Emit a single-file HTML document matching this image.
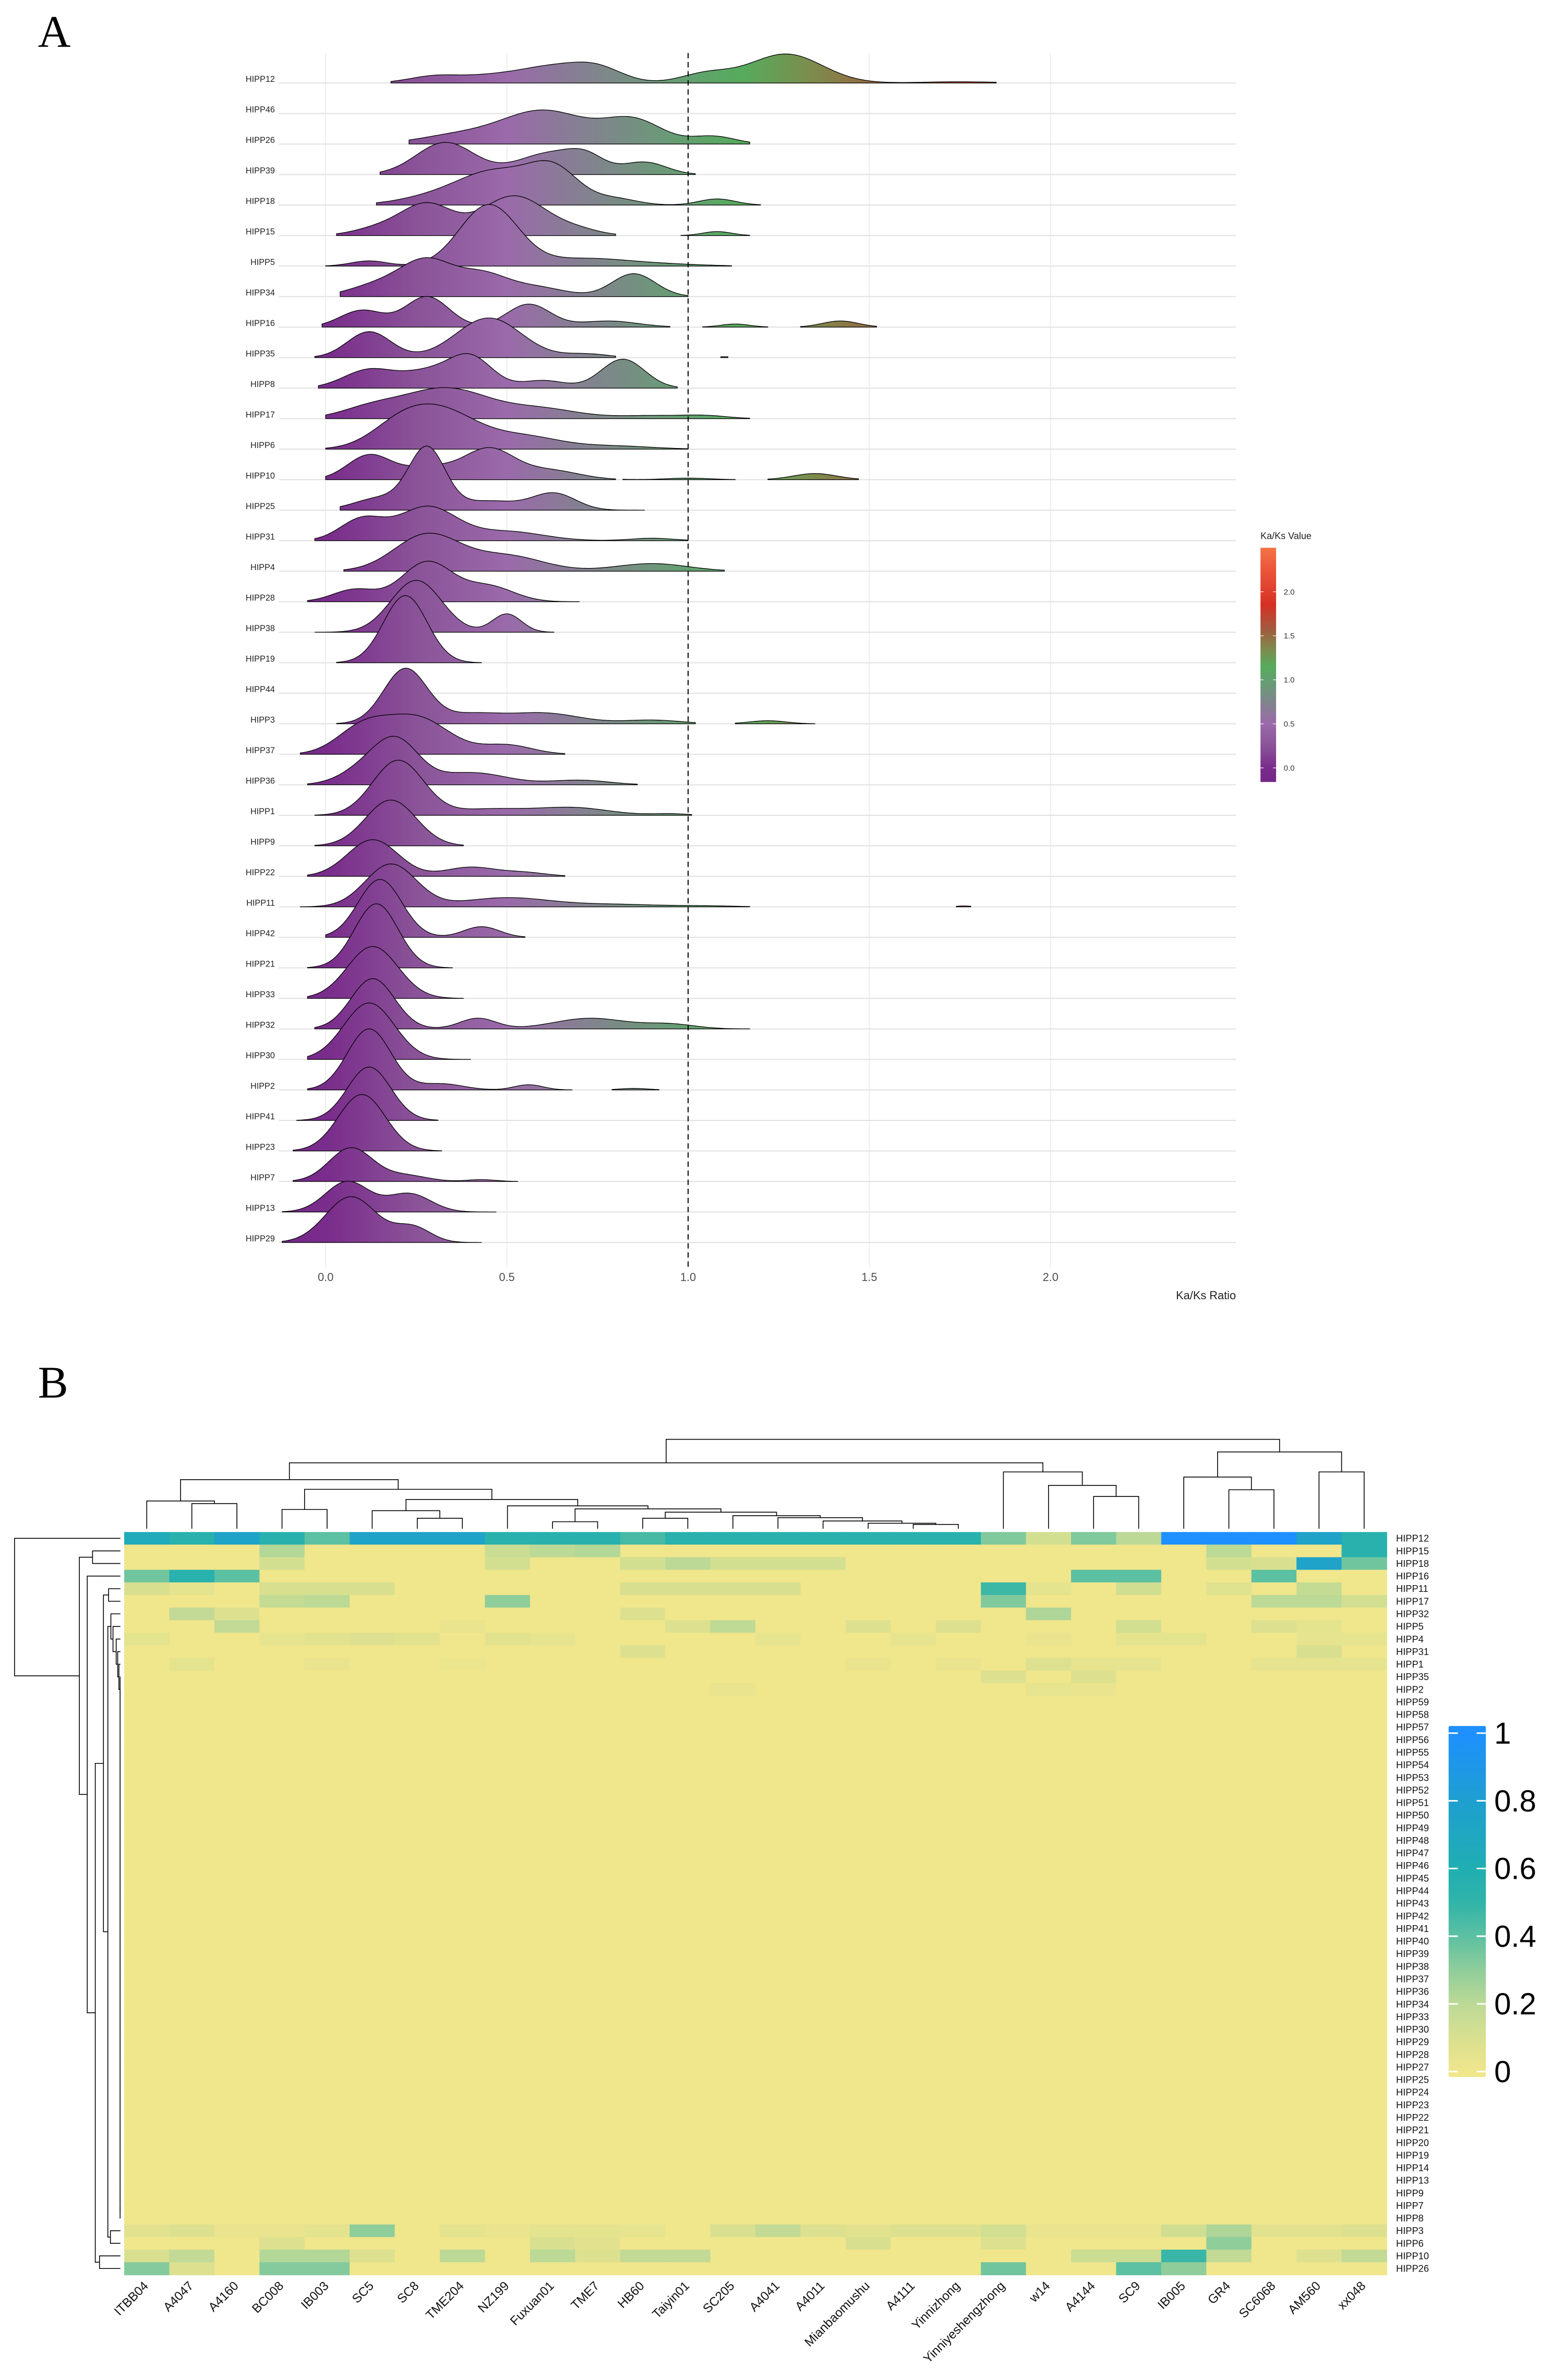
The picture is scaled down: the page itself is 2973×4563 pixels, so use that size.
<!DOCTYPE html>
<html><head><meta charset="utf-8"><title>Ka/Ks ridge plot and HIPP heatmap</title>
<style>html,body{margin:0;padding:0;background:#fff}svg{display:block}text{font-family:"Liberation Sans",Arial,sans-serif}</style>
</head><body>
<svg id="fig" xmlns="http://www.w3.org/2000/svg" width="2973" height="4563" viewBox="0 0 1024 1571.67" preserveAspectRatio="none">
<defs>
<linearGradient id="kg" gradientUnits="userSpaceOnUse" x1="176.7" y1="0" x2="813.3" y2="0"></linearGradient>
<linearGradient id="kgv" x1="0" y1="1" x2="0" y2="0"></linearGradient>
<linearGradient id="hg" x1="0" y1="1" x2="0" y2="0"></linearGradient>
</defs>
<text x="25" y="31" font-size="30" style="font-family:'Liberation Serif',serif">A</text>
<text x="25" y="923" font-size="30" style="font-family:'Liberation Serif',serif">B</text>
<g id="ridge"></g>
<g id="heat"></g>
</svg>
<script>
// ---------- Panel A data ----------
const ridgeGenes = ["HIPP12","HIPP46","HIPP26","HIPP39","HIPP18","HIPP15","HIPP5","HIPP34","HIPP16","HIPP35","HIPP8","HIPP17","HIPP6","HIPP10","HIPP25","HIPP31","HIPP4","HIPP28","HIPP38","HIPP19","HIPP44","HIPP3","HIPP37","HIPP36","HIPP1","HIPP9","HIPP22","HIPP11","HIPP42","HIPP21","HIPP33","HIPP32","HIPP30","HIPP2","HIPP41","HIPP23","HIPP7","HIPP13","HIPP29"];
// value ranges (segments) per gene
const ridgeSegments = [
[[0.18,1.85]],[],[[0.23,1.17]],[[0.15,1.02]],[[0.14,1.2]],[[0.03,0.8],[0.98,1.17]],[[0.0,1.12]],[[0.04,1.0]],
[[-0.01,0.95],[1.04,1.22],[1.31,1.52]],[[-0.03,0.8],[1.09,1.11]],[[-0.02,0.97]],[[0.0,1.17]],[[0.0,1.0]],
[[0.0,0.8],[0.82,1.13],[1.22,1.47]],[[0.04,0.88]],[[-0.03,1.0]],[[0.05,1.1]],[[-0.05,0.7]],[[-0.03,0.63]],[[0.03,0.43]],[],
[[0.03,1.02],[1.13,1.35]],[[-0.07,0.66]],[[-0.05,0.86]],[[-0.03,1.01]],[[-0.03,0.38]],[[-0.05,0.66]],[[-0.07,1.17],[1.74,1.78]],
[[0.0,0.55]],[[-0.05,0.35]],[[-0.05,0.38]],[[-0.03,1.17]],[[-0.05,0.4]],[[-0.05,0.68],[0.79,0.92]],[[-0.08,0.31]],[[-0.09,0.32]],
[[-0.09,0.53]],[[-0.12,0.47]],[[-0.12,0.43]]];
// density modes per gene: [center Ka/Ks, height (rows), spread]
const ridgePeaks = [
[[0.3,0.22,0.07],[0.45,0.2,0.08],[0.62,0.5,0.09],[0.75,0.45,0.07],[1.05,0.3,0.07],[1.27,0.95,0.1],[1.75,0.04,0.1]],
[],
[[0.35,0.25,0.1],[0.6,1.1,0.12],[0.85,0.75,0.08],[1.07,0.25,0.06]],
[[0.33,1.05,0.08],[0.62,0.7,0.09],[0.72,0.4,0.05],[0.88,0.4,0.06]],
[[0.3,0.25,0.1],[0.47,1.05,0.1],[0.63,1.1,0.07],[0.8,0.2,0.06],[1.08,0.2,0.05]],
[[0.15,0.25,0.07],[0.28,1.0,0.07],[0.52,1.3,0.09],[0.7,0.15,0.06],[1.08,0.13,0.04]],
[[0.12,0.17,0.05],[0.45,2.0,0.08],[0.72,0.25,0.12],[0.95,0.05,0.1]],
[[0.15,0.4,0.08],[0.28,1.1,0.07],[0.43,0.7,0.07],[0.58,0.3,0.08],[0.85,0.75,0.06]],
[[0.1,0.55,0.06],[0.28,1.0,0.06],[0.56,0.75,0.06],[0.78,0.2,0.08],[1.13,0.1,0.04],[1.42,0.2,0.05]],
[[0.12,0.85,0.06],[0.45,1.3,0.09],[0.72,0.12,0.06],[1.1,0.03,0.02]],
[[0.12,0.6,0.07],[0.28,0.5,0.07],[0.4,1.0,0.06],[0.6,0.25,0.06],[0.82,0.95,0.06]],
[[0.12,0.3,0.08],[0.33,1.0,0.12],[0.6,0.3,0.1],[0.9,0.1,0.1],[1.05,0.08,0.06]],
[[0.2,0.6,0.08],[0.32,1.2,0.1],[0.55,0.4,0.1],[0.8,0.1,0.1]],
[[0.12,0.8,0.06],[0.28,0.4,0.07],[0.45,1.0,0.07],[0.62,0.3,0.08],[1.0,0.05,0.06],[1.35,0.2,0.06]],
[[0.15,0.4,0.07],[0.28,2.0,0.05],[0.45,0.3,0.08],[0.63,0.55,0.06]],
[[0.1,0.7,0.06],[0.28,1.1,0.08],[0.5,0.3,0.1],[0.9,0.08,0.06]],
[[0.28,1.2,0.09],[0.5,0.5,0.1],[0.9,0.25,0.1]],
[[0.08,0.4,0.06],[0.28,1.3,0.07],[0.45,0.5,0.07]],
[[0.25,1.7,0.07],[0.5,0.6,0.04]],
[[0.22,2.2,0.06]],
[],
[[0.22,1.8,0.06],[0.4,0.3,0.08],[0.6,0.35,0.1],[0.9,0.12,0.08],[1.22,0.1,0.05]],
[[0.1,0.8,0.07],[0.25,1.2,0.09],[0.5,0.3,0.07]],
[[0.12,0.6,0.07],[0.2,1.2,0.06],[0.4,0.4,0.1],[0.7,0.15,0.08]],
[[0.2,1.8,0.07],[0.45,0.2,0.1],[0.68,0.25,0.1],[0.95,0.05,0.05]],
[[0.18,1.5,0.07]],
[[0.13,1.2,0.07],[0.4,0.3,0.07],[0.55,0.12,0.06]],
[[0.18,1.4,0.07],[0.5,0.3,0.12],[0.8,0.08,0.12],[1.05,0.03,0.08],[1.76,0.03,0.02]],
[[0.15,1.9,0.06],[0.43,0.35,0.05]],
[[0.14,2.1,0.06]],
[[0.13,1.7,0.07]],
[[0.13,1.65,0.06],[0.42,0.35,0.05],[0.73,0.35,0.1],[0.95,0.15,0.07]],
[[0.12,1.85,0.07]],
[[0.12,2.0,0.06],[0.32,0.2,0.06],[0.56,0.17,0.04],[0.85,0.05,0.04]],
[[0.12,1.75,0.06]],
[[0.1,1.85,0.065]],
[[0.07,1.1,0.06],[0.22,0.2,0.06],[0.43,0.06,0.04]],
[[0.06,1.0,0.06],[0.23,0.6,0.06]],
[[0.07,1.5,0.07],[0.24,0.5,0.05]]];
const xTicks = [0,0.5,1,1.5,2];
const xTickLabels = ["0.0","0.5","1.0","1.5","2.0"];
const legendATicks = [0,0.5,1,1.5,2];
const legendATickLabels = ["0.0","0.5","1.0","1.5","2.0"];
const refLine = 1.0;

// ---------- Panel B data ----------
const heatCols = ["ITBB04","A4047","A4160","BC008","IB003","SC5","SC8","TME204","NZ199","Fuxuan01","TME7","HB60","Taiyin01","SC205","A4041","A4011","Mianbaomushu","A4111","Yinnizhong","Yinniyeshengzhong","w14","A4144","SC9","IB005","GR4","SC6068","AM560","xx048"];
const heatRows = ["HIPP12","HIPP15","HIPP18","HIPP16","HIPP11","HIPP17","HIPP32","HIPP5","HIPP4","HIPP31","HIPP1","HIPP35","HIPP2","HIPP59","HIPP58","HIPP57","HIPP56","HIPP55","HIPP54","HIPP53","HIPP52","HIPP51","HIPP50","HIPP49","HIPP48","HIPP47","HIPP46","HIPP45","HIPP44","HIPP43","HIPP42","HIPP41","HIPP40","HIPP39","HIPP38","HIPP37","HIPP36","HIPP34","HIPP33","HIPP30","HIPP29","HIPP28","HIPP27","HIPP25","HIPP24","HIPP23","HIPP22","HIPP21","HIPP20","HIPP19","HIPP14","HIPP13","HIPP9","HIPP7","HIPP8","HIPP3","HIPP6","HIPP10","HIPP26"];
const heatValues = [
[0.65,0.55,0.75,0.55,0.4,0.75,0.75,0.75,0.55,0.55,0.55,0.45,0.55,0.55,0.55,0.55,0.55,0.55,0.55,0.33,0.12,0.33,0.2,1,1,1,0.75,0.55],
[0,0,0,0.22,0,0,0,0,0.15,0.2,0.22,0,0,0,0,0,0,0,0,0,0,0,0,0,0.2,0,0,0.55],
[0,0,0,0.12,0,0,0,0,0.12,0,0,0.12,0.2,0.12,0.12,0.12,0,0,0,0,0,0,0,0,0.12,0.1,0.75,0.36],
[0.36,0.55,0.4,0,0,0,0,0,0,0,0,0,0,0,0,0,0,0,0,0,0,0.4,0.4,0,0,0.4,0,0],
[0.1,0.05,0,0.1,0.1,0.1,0,0,0,0,0,0.1,0.1,0.1,0.1,0,0,0,0,0.47,0.05,0,0.13,0,0.07,0,0.17,0],
[0,0,0,0.17,0.2,0,0,0,0.3,0,0,0,0,0,0,0,0,0,0,0.33,0,0,0,0,0,0.2,0.2,0.12],
[0,0.18,0.08,0,0,0,0,0,0,0,0,0.08,0,0,0,0,0,0,0,0,0.23,0,0,0,0,0,0,0],
[0,0,0.18,0,0,0,0,0.03,0,0,0,0,0.08,0.19,0,0,0.08,0,0.08,0,0,0,0.12,0,0,0.08,0.05,0],
[0.05,0,0,0.04,0.06,0.08,0.06,0,0.06,0.04,0,0,0,0,0.04,0,0,0.04,0,0,0.03,0,0.05,0.05,0,0,0.04,0.04],
[0,0,0,0,0,0,0,0,0,0,0,0.08,0,0,0,0,0,0,0,0,0,0,0,0,0,0,0.1,0],
[0,0.05,0,0,0.03,0,0,0.02,0,0,0,0,0,0,0,0,0.03,0,0.03,0,0.08,0.04,0.04,0,0,0.04,0.04,0.04],
[0,0,0,0,0,0,0,0,0,0,0,0,0,0,0,0,0,0,0,0.08,0,0.08,0,0,0,0,0,0],
[0,0,0,0,0,0,0,0,0,0,0,0,0,0.03,0,0,0,0,0,0,0.04,0.03,0,0,0,0,0,0],
[0,0,0,0,0,0,0,0,0,0,0,0,0,0,0,0,0,0,0,0,0,0,0,0,0,0,0,0],
[0,0,0,0,0,0,0,0,0,0,0,0,0,0,0,0,0,0,0,0,0,0,0,0,0,0,0,0],
[0,0,0,0,0,0,0,0,0,0,0,0,0,0,0,0,0,0,0,0,0,0,0,0,0,0,0,0],
[0,0,0,0,0,0,0,0,0,0,0,0,0,0,0,0,0,0,0,0,0,0,0,0,0,0,0,0],
[0,0,0,0,0,0,0,0,0,0,0,0,0,0,0,0,0,0,0,0,0,0,0,0,0,0,0,0],
[0,0,0,0,0,0,0,0,0,0,0,0,0,0,0,0,0,0,0,0,0,0,0,0,0,0,0,0],
[0,0,0,0,0,0,0,0,0,0,0,0,0,0,0,0,0,0,0,0,0,0,0,0,0,0,0,0],
[0,0,0,0,0,0,0,0,0,0,0,0,0,0,0,0,0,0,0,0,0,0,0,0,0,0,0,0],
[0,0,0,0,0,0,0,0,0,0,0,0,0,0,0,0,0,0,0,0,0,0,0,0,0,0,0,0],
[0,0,0,0,0,0,0,0,0,0,0,0,0,0,0,0,0,0,0,0,0,0,0,0,0,0,0,0],
[0,0,0,0,0,0,0,0,0,0,0,0,0,0,0,0,0,0,0,0,0,0,0,0,0,0,0,0],
[0,0,0,0,0,0,0,0,0,0,0,0,0,0,0,0,0,0,0,0,0,0,0,0,0,0,0,0],
[0,0,0,0,0,0,0,0,0,0,0,0,0,0,0,0,0,0,0,0,0,0,0,0,0,0,0,0],
[0,0,0,0,0,0,0,0,0,0,0,0,0,0,0,0,0,0,0,0,0,0,0,0,0,0,0,0],
[0,0,0,0,0,0,0,0,0,0,0,0,0,0,0,0,0,0,0,0,0,0,0,0,0,0,0,0],
[0,0,0,0,0,0,0,0,0,0,0,0,0,0,0,0,0,0,0,0,0,0,0,0,0,0,0,0],
[0,0,0,0,0,0,0,0,0,0,0,0,0,0,0,0,0,0,0,0,0,0,0,0,0,0,0,0],
[0,0,0,0,0,0,0,0,0,0,0,0,0,0,0,0,0,0,0,0,0,0,0,0,0,0,0,0],
[0,0,0,0,0,0,0,0,0,0,0,0,0,0,0,0,0,0,0,0,0,0,0,0,0,0,0,0],
[0,0,0,0,0,0,0,0,0,0,0,0,0,0,0,0,0,0,0,0,0,0,0,0,0,0,0,0],
[0,0,0,0,0,0,0,0,0,0,0,0,0,0,0,0,0,0,0,0,0,0,0,0,0,0,0,0],
[0,0,0,0,0,0,0,0,0,0,0,0,0,0,0,0,0,0,0,0,0,0,0,0,0,0,0,0],
[0,0,0,0,0,0,0,0,0,0,0,0,0,0,0,0,0,0,0,0,0,0,0,0,0,0,0,0],
[0,0,0,0,0,0,0,0,0,0,0,0,0,0,0,0,0,0,0,0,0,0,0,0,0,0,0,0],
[0,0,0,0,0,0,0,0,0,0,0,0,0,0,0,0,0,0,0,0,0,0,0,0,0,0,0,0],
[0,0,0,0,0,0,0,0,0,0,0,0,0,0,0,0,0,0,0,0,0,0,0,0,0,0,0,0],
[0,0,0,0,0,0,0,0,0,0,0,0,0,0,0,0,0,0,0,0,0,0,0,0,0,0,0,0],
[0,0,0,0,0,0,0,0,0,0,0,0,0,0,0,0,0,0,0,0,0,0,0,0,0,0,0,0],
[0,0,0,0,0,0,0,0,0,0,0,0,0,0,0,0,0,0,0,0,0,0,0,0,0,0,0,0],
[0,0,0,0,0,0,0,0,0,0,0,0,0,0,0,0,0,0,0,0,0,0,0,0,0,0,0,0],
[0,0,0,0,0,0,0,0,0,0,0,0,0,0,0,0,0,0,0,0,0,0,0,0,0,0,0,0],
[0,0,0,0,0,0,0,0,0,0,0,0,0,0,0,0,0,0,0,0,0,0,0,0,0,0,0,0],
[0,0,0,0,0,0,0,0,0,0,0,0,0,0,0,0,0,0,0,0,0,0,0,0,0,0,0,0],
[0,0,0,0,0,0,0,0,0,0,0,0,0,0,0,0,0,0,0,0,0,0,0,0,0,0,0,0],
[0,0,0,0,0,0,0,0,0,0,0,0,0,0,0,0,0,0,0,0,0,0,0,0,0,0,0,0],
[0,0,0,0,0,0,0,0,0,0,0,0,0,0,0,0,0,0,0,0,0,0,0,0,0,0,0,0],
[0,0,0,0,0,0,0,0,0,0,0,0,0,0,0,0,0,0,0,0,0,0,0,0,0,0,0,0],
[0,0,0,0,0,0,0,0,0,0,0,0,0,0,0,0,0,0,0,0,0,0,0,0,0,0,0,0],
[0,0,0,0,0,0,0,0,0,0,0,0,0,0,0,0,0,0,0,0,0,0,0,0,0,0,0,0],
[0,0,0,0,0,0,0,0,0,0,0,0,0,0,0,0,0,0,0,0,0,0,0,0,0,0,0,0],
[0,0,0,0,0,0,0,0,0,0,0,0,0,0,0,0,0,0,0,0,0,0,0,0,0,0,0,0],
[0,0,0,0,0,0,0,0,0,0,0,0,0,0,0,0,0,0,0,0,0,0,0,0,0,0,0,0],
[0.06,0.08,0.03,0.03,0.05,0.3,0,0.05,0.03,0.05,0.05,0.04,0,0.1,0.18,0.08,0.06,0.08,0.08,0.12,0.03,0.03,0.03,0.13,0.23,0.06,0.06,0.08],
[0,0,0,0.08,0,0,0,0,0,0.1,0.06,0,0,0,0,0,0.1,0,0,0.08,0,0,0,0,0.3,0,0,0],
[0.1,0.18,0,0.22,0.22,0.08,0,0.2,0,0.2,0.08,0.18,0.18,0,0,0,0,0,0,0,0,0.15,0.15,0.48,0.18,0,0.08,0.18],
[0.32,0.08,0,0.32,0.32,0,0,0,0,0,0,0,0,0,0,0,0,0,0,0.36,0,0,0.4,0.3,0,0,0,0]];
const legendBTicks = [0,0.2,0.4,0.6,0.8,1];
const legendBTickLabels = ["0","0.2","0.4","0.6","0.8","1"];
// column dendrogram merges: [left, right, y-level]
const colMerges = [[1,2,992.9],[0,"m0",991.2],[3,4,996.8],[6,7,1002.6],[5,"m3",997.6],[9,10,1004.9],[11,12,1002.6],[17,18,1006.7],[16,"m7",1005.9],[15,"m8",1004.4],[14,"m9",1002.2],[13,"m10",1000.9],["m6","m11",998.6],["m5","m12",996.4],[8,"m13",994.4],["m4","m14",990.2],["m2","m15",983.5],["m1","m16",977.1],[21,22,988.2],[20,"m18",980.9],[19,"m19",972.0],["m17","m20",966.0],[24,25,983.8],[23,"m22",975.4],[26,27,972.0],["m23","m24",958.8],["m21","m25",950.5]];

// ---------- helpers ----------
const NS = "http://www.w3.org/2000/svg";
function mk(tag, attrs, parent){ const e=document.createElementNS(NS,tag); for(const k in attrs) e.setAttribute(k,attrs[k]); parent.appendChild(e); return e; }
function hex(c){return [parseInt(c.slice(1,3),16),parseInt(c.slice(3,5),16),parseInt(c.slice(5,7),16)];}
function interp(stops,v){ if(v<=stops[0][0]) return stops[0][1]; for(let i=1;i<stops.length;i++){ if(v<=stops[i][0]){ const a=stops[i-1],b=stops[i],t=(v-a[0])/(b[0]-a[0]); const ca=hex(a[1]),cb=hex(b[1]); return "rgb("+ca.map((x,k)=>Math.round(x+(cb[k]-x)*t)).join(",")+")"; } } return stops[stops.length-1][1]; }

// ---------- Panel A ----------
const ridge = document.getElementById("ridge");
const X0=215, XS=239.3, ROW=20.15, BASE0=54.8;
const xA = v => X0 + XS*v;
const yRow = i => BASE0 + ROW*i;
const kStops = [[-0.16,"#74268a"],[0,"#792c8b"],[0.25,"#8a5398"],[0.5,"#9a6aaa"],[0.75,"#80858c"],[1.0,"#63a070"],[1.15,"#56ab5c"],[1.35,"#7e8a4c"],[1.55,"#9d6040"],[1.85,"#d63025"],[2.3,"#ee5a3c"],[2.5,"#f47448"]];
const kg=document.getElementById("kg"), kgv=document.getElementById("kgv");
kg.setAttribute("x1", xA(-0.16)); kg.setAttribute("x2", xA(2.5));
kStops.forEach(s=>{ const off=(s[0]+0.16)/2.66; mk("stop",{offset:off,"stop-color":s[1]},kg); mk("stop",{offset:off,"stop-color":s[1]},kgv); });

const grid = mk("g",{},ridge);


xTicks.forEach((t,i)=>{
  const l=mk("line",{x1:xA(t),x2:xA(t),y1:35,y2:837,stroke:"#ebebeb","stroke-width":0.6},grid);
  
  
  const tx=mk("text",{x:xA(t),y:846,"font-size":7.5,"text-anchor":"middle",fill:"#4d4d4d"},grid);
  tx.textContent=xTickLabels[i];
  
  
});
ridgeGenes.forEach((g,i)=>{
  const l=mk("line",{x1:184,x2:816,y1:yRow(i),y2:yRow(i),stroke:"#e3e3e3","stroke-width":0.8},grid);
  
  
  const t=mk("text",{x:181.5,y:yRow(i)-0.8,"font-size":5.6,"text-anchor":"end",fill:"#222"},grid);
  t.textContent=g;
  
  
});
const xt=mk("text",{x:816,y:858,"font-size":7.5,"text-anchor":"end",fill:"#222"},ridge);
xt.textContent="Ka/Ks Ratio";



const curves = mk("g",{},ridge);


ridgeGenes.forEach((g,i)=>{
  const peaks=ridgePeaks[i], b=yRow(i);
  ridgeSegments[i].forEach(seg=>{
    const n=120; let d="M"+xA(seg[0]).toFixed(2)+","+b;
    for(let k=0;k<=n;k++){ const v=seg[0]+(seg[1]-seg[0])*k/n; let h=0; peaks.forEach(p=>{ h+=p[1]*Math.exp(-0.5*Math.pow((v-p[0])/p[2],2)); }); d+=" L"+xA(v).toFixed(2)+","+(b-h*ROW).toFixed(2); }
    d+=" L"+xA(seg[1]).toFixed(2)+","+b+" Z";
    const p=mk("path",{d:d,fill:"url(#kg)",stroke:"#000","stroke-width":0.45,"stroke-linejoin":"round"},curves);
    
    
  });
});
const dash=mk("line",{x1:xA(refLine),x2:xA(refLine),y1:35,y2:837,stroke:"#000","stroke-width":0.7,"stroke-dasharray":"3.5,2.5"},ridge);



// legend A
const legA=mk("g",{},ridge);


const la=mk("text",{x:832.2,y:356,"font-size":6.2,fill:"#222"},legA); la.textContent="Ka/Ks Value";


const barA=mk("rect",{x:832.2,y:361.7,width:10.3,height:154.7,fill:"url(#kgv)"},legA);


const yLegA = v => 516.4 - (v+0.16)/2.66*154.7;
legendATicks.forEach((t,i)=>{
  mk("line",{x1:832.2,x2:834.3,y1:yLegA(t),y2:yLegA(t),stroke:"#fff","stroke-width":0.4},legA);
  mk("line",{x1:840.4,x2:842.5,y1:yLegA(t),y2:yLegA(t),stroke:"#fff","stroke-width":0.4},legA);
  const tt=mk("text",{x:847.5,y:yLegA(t)+1.8,"font-size":5.2,fill:"#333"},legA); tt.textContent=legendATickLabels[i];
  
  
});

// ---------- Panel B ----------
const heat=document.getElementById("heat");
const HX=82, HY=1011.7, CW=(915.5-82)/28, RH=(1502.2-1011.7)/59;
const hStops=[[0,"#f0e68c"],[0.1,"#d8e090"],[0.2,"#bcd996"],[0.3,"#8fcd9b"],[0.4,"#5cc0a2"],[0.5,"#30b4a8"],[0.6,"#20aeb2"],[0.8,"#1e9fd0"],[1,"#1e90ff"]];
const hg=document.getElementById("hg");
hStops.forEach(s=>mk("stop",{offset:s[0],"stop-color":s[1]},hg));
const cells=mk("g",{},heat);


heatValues.forEach((row,i)=>{ row.forEach((v,j)=>{
  const r=mk("rect",{x:(HX+j*CW).toFixed(2),y:(HY+i*RH).toFixed(2),width:(CW+0.3).toFixed(2),height:(RH+0.3).toFixed(2),fill:interp(hStops,v)},cells);
  
  
});});
heatRows.forEach((g,i)=>{
  const t=mk("text",{x:921.7,y:HY+(i+0.5)*RH+2.2,"font-size":6.3,fill:"#111"},heat); t.textContent=g;
  
  
});
const colX = j => HX+(j+0.5)*CW;
heatCols.forEach((c,j)=>{
  const x=colX(j)+1.5, y=1510;
  const t=mk("text",{x:x,y:y,"font-size":8.3,"text-anchor":"end",fill:"#111",transform:"rotate(-45 "+x+" "+y+")"},heat); t.textContent=c;
  
  
});
// column dendrogram
const cd=mk("g",{stroke:"#000","stroke-width":0.55,fill:"none"},heat);


const LEAFY=1009.5, nodes={};
function pos(n){ return typeof n==="number" ? {x:colX(n),y:LEAFY} : nodes[n]; }
colMerges.forEach((m,k)=>{
  const a=pos(m[0]), b=pos(m[1]), h=m[2];
  mk("path",{d:"M"+a.x+","+a.y+" V"+h+" H"+b.x+" V"+b.y},cd);
  nodes["m"+k]={x:(a.x+b.x)/2,y:h};
});
// row dendrogram
const rd=mk("g",{stroke:"#000","stroke-width":0.55,fill:"none"},heat);


const rowY = i => HY+(i+0.5)*RH;
const LEAFX=79.5;
function rpos(n){ return typeof n==="number" ? {x:LEAFX,y:rowY(n)} : n; }
function rmerge(a,b,x){ const A=rpos(a),B=rpos(b); mk("path",{d:"M"+A.x+","+A.y+" H"+x+" V"+B.y+" H"+B.x},rd); return {x:x,y:(A.y+B.y)/2}; }
let c=rmerge(53,54,79.3);
for(let r=52;r>=11;r--) c=rmerge(r,c,79.3);
c=rmerge(10,c,78.5); c=rmerge(9,c,77.7); c=rmerge(8,c,76.7); c=rmerge(7,c,74.6); c=rmerge(6,c,73.2);
const n56=rmerge(55,56,72.9); c=rmerge(c,n56,71.2);
const n45=rmerge(4,5,71.7); c=rmerge(n45,c,68.3);
const n78=rmerge(57,58,65.7); c=rmerge(c,n78,62.9);
c=rmerge(3,c,57.6);
const n12=rmerge(1,2,61.1); c=rmerge(n12,c,52.4);
rmerge(0,c,9.6);
// legend B
const legB=mk("g",{},heat);


const barB=mk("rect",{x:956.4,y:1139.8,width:24.6,height:231.8,rx:1,fill:"url(#hg)"},legB);


hg.setAttribute("gradientUnits","userSpaceOnUse"); hg.setAttribute("x1",0); hg.setAttribute("x2",0); hg.setAttribute("y1",1368); hg.setAttribute("y2",1144.5);
const yLegB = v => 1368 - v*223.5;
legendBTicks.forEach((t,i)=>{
  mk("line",{x1:956.4,x2:962.5,y1:yLegB(t),y2:yLegB(t),stroke:"#fff","stroke-width":1},legB);
  mk("line",{x1:974.9,x2:981,y1:yLegB(t),y2:yLegB(t),stroke:"#fff","stroke-width":1},legB);
  const tt=mk("text",{x:986.5,y:yLegB(t)+7,"font-size":20,fill:"#000"},legB); tt.textContent=legendBTickLabels[i];
  
  
});
</script>
</body></html>
